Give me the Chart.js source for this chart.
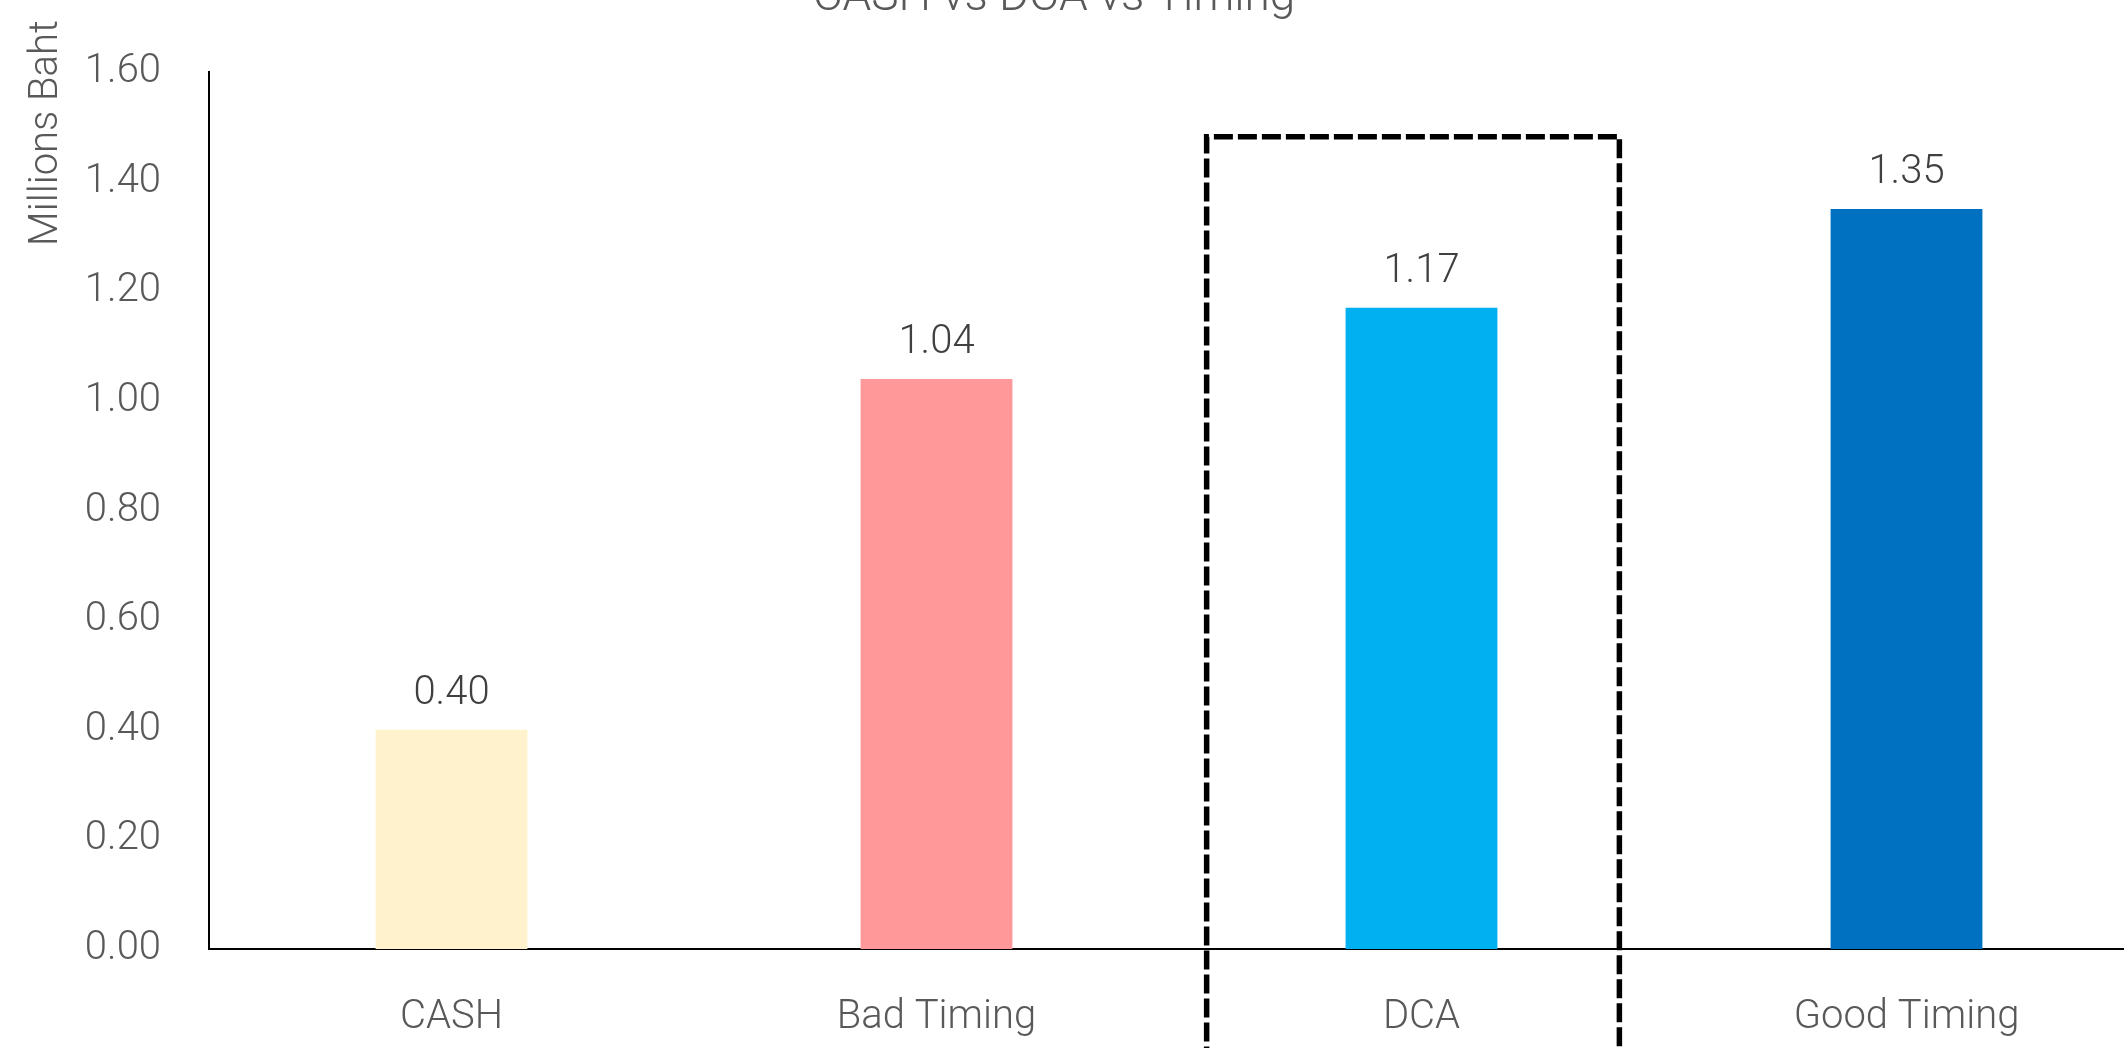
<!DOCTYPE html>
<html>
<head>
<meta charset="utf-8">
<script src="https://cdn.jsdelivr.net/npm/chart.js@4/dist/chart.umd.min.js"></script>
<style>
  html, body { margin: 0; padding: 0; background: #fff; overflow: hidden; }
  #wrap { width: 2124px; height: 1048px; overflow: hidden; position: relative; }
  #myChart { position: absolute; left: 0; top: 0; }
</style>
</head>
<body>
<div id="wrap"><canvas id="myChart" width="2149" height="1048"></canvas></div>
<script>
// chart data
const categories = ["CASH", "Bad Timing", "DCA", "Good Timing"];
const values = [0.40, 1.04, 1.17, 1.35];
const barColors = ["#FFF2CC", "#FF9999", "#00B0F0", "#0070C0"];
const yTicks = [0, 0.2, 0.4, 0.6, 0.8, 1.0, 1.2, 1.4, 1.6];

const chartTitle = "CASH vs DCA vs Timing";
const yTitle = "Millions Baht";

// dashed box round the DCA bar, in category index / value units
const boxArea = { left: 1.557, right: 2.408, top: 1.482, bottom: -0.3 };

const FONT = "Roboto, 'Liberation Sans', sans-serif";
const textGrey = "#595959";

// draws title, axis title, value labels and the dashed box
const extras = {
  id: "extras",
  afterDatasetsDraw(chart) {
    const ctx = chart.ctx;
    const meta = chart.getDatasetMeta(0);
    ctx.save();
    ctx.font = "300 40px " + FONT;
    ctx.fillStyle = "#404040";
    ctx.textAlign = "center";
    ctx.textBaseline = "alphabetic";
    meta.data.forEach((bar, i) => {
      ctx.fillText(values[i].toFixed(2), bar.x, bar.y - 26);
    });
    ctx.restore();
  },
  afterDraw(chart) {
    const ctx = chart.ctx;
    const xs = chart.scales.x;
    const ys = chart.scales.y;
    ctx.save();

    // title (partly off the top, like the original)
    ctx.font = "300 46px " + FONT;
    ctx.fillStyle = textGrey;
    ctx.textAlign = "center";
    ctx.textBaseline = "alphabetic";
    ctx.fillText(chartTitle, 1054, 10);

    // y axis title
    ctx.font = "300 40px " + FONT;
    ctx.translate(47, 133);
    ctx.rotate(-Math.PI / 2);
    ctx.textBaseline = "middle";
    ctx.fillText(yTitle, 0, 0);
    ctx.setTransform(1, 0, 0, 1, 0, 0);

    // dashed box
    const x1 = xs.getPixelForValue(boxArea.left);
    const x2 = xs.getPixelForValue(boxArea.right);
    const y1 = ys.getPixelForValue(boxArea.top);
    const y2 = ys.getPixelForValue(boxArea.bottom);
    ctx.strokeStyle = "#000";
    ctx.lineWidth = 5.5;
    ctx.setLineDash([19, 5]);
    ctx.beginPath();
    ctx.moveTo(x1, y2);
    ctx.lineTo(x1, y1);
    ctx.lineTo(x2, y1);
    ctx.lineTo(x2, y2);
    ctx.stroke();
    ctx.restore();
  }
};

new Chart("myChart", {
  type: "bar",
  data: {
    labels: categories,
    datasets: [
      {
        data: values,
        backgroundColor: barColors,
        borderWidth: 0,
        barPercentage: 0.626,
        categoryPercentage: 0.5,
      },
    ],
  },
  options: {
    responsive: false,
    devicePixelRatio: 1,
    animation: false,
    layout: { padding: { top: 69, left: 0, right: 0, bottom: 0 } },
    plugins: {
      legend: { display: false },
      tooltip: { enabled: false },
      title: { display: false },
    },
    scales: {
      x: {
        grid: { display: false, drawTicks: false },
        border: { display: true, color: "#000", width: 2 },
        ticks: {
          color: textGrey,
          font: { family: FONT, size: 40, weight: "300" },
          padding: 45,
        },
        afterFit(scale) { scale.height = 99; },
      },
      y: {
        min: 0,
        max: 1.6,
        grid: { display: false, drawTicks: false },
        border: { display: true, color: "#000", width: 2 },
        afterBuildTicks(scale) {
          scale.ticks = yTicks.map((v) => ({ value: v }));
        },
        ticks: {
          color: textGrey,
          font: { family: FONT, size: 40, weight: "300" },
          padding: 48,
          callback: (v) => Number(v).toFixed(2),
        },
        afterFit(scale) { scale.width = 209; },
      },
    },
  },
  plugins: [extras],
});
</script>
</body>
</html>
